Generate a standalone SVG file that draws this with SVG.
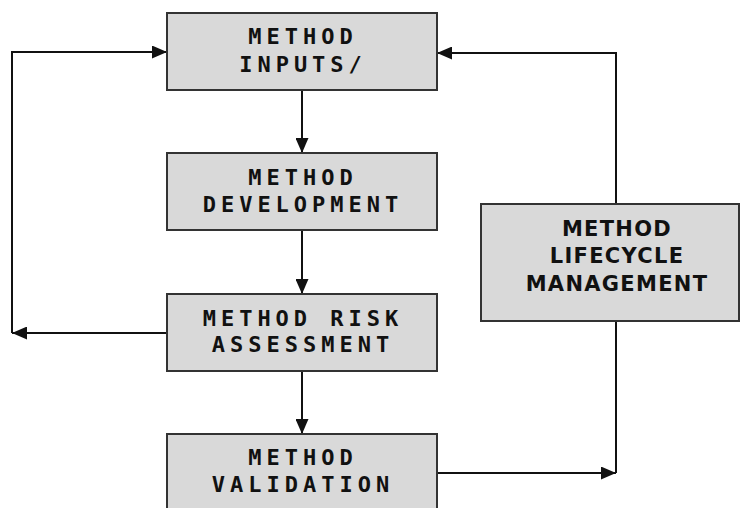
<svg xmlns="http://www.w3.org/2000/svg" width="740" height="508" viewBox="0 0 740 508">
<style>
.box{fill:#d9d9d9;stroke:#333;stroke-width:2}
.t{font-family:"DejaVu Sans Mono","Liberation Mono",monospace;font-weight:bold;font-size:22px;letter-spacing:5px;text-anchor:middle;fill:#111}
.s{font-family:"DejaVu Sans","Liberation Sans",sans-serif;font-weight:bold;font-size:21px;letter-spacing:1.3px;text-anchor:middle;fill:#111}
.c{fill:none;stroke:#111;stroke-width:2}
</style>
<defs>
<marker id="ah" markerWidth="15" markerHeight="13" refX="15" refY="6.5" orient="auto" markerUnits="userSpaceOnUse" viewBox="0 0 15 13">
<path d="M0,0 L15,6.5 L0,13 Z" fill="#111"/>
</marker>
</defs>
<g id="connectors">
<path class="c" d="M302,90 V153" marker-end="url(#ah)"/>
<path class="c" d="M302,230 V294" marker-end="url(#ah)"/>
<path class="c" d="M302,371 V434" marker-end="url(#ah)"/>
<path class="c" d="M167,333 H12" marker-end="url(#ah)"/>
<path class="c" d="M12,333 V52 H167" marker-end="url(#ah)"/>
<path class="c" d="M616,204 V53 H437" marker-end="url(#ah)"/>
<path class="c" d="M437,473 H616" marker-end="url(#ah)"/>
<path class="c" d="M616,321 V473"/>
</g>
<g id="inputs">
<rect class="box" x="167" y="13" width="270" height="77"/>
<text class="t" x="303" y="44">METHOD</text>
<text class="t" x="303" y="72">INPUTS/</text>
</g>
<g id="development">
<rect class="box" x="167" y="153" width="270" height="77"/>
<text class="t" x="303" y="185">METHOD</text>
<text class="t" x="303" y="212">DEVELOPMENT</text>
</g>
<g id="risk">
<rect class="box" x="167" y="294" width="270" height="77"/>
<text class="t" x="303" y="326">METHOD RISK</text>
<text class="t" x="303" y="352">ASSESSMENT</text>
</g>
<g id="validation">
<rect class="box" x="167" y="434" width="270" height="80"/>
<text class="t" x="303" y="465">METHOD</text>
<text class="t" x="303" y="492">VALIDATION</text>
</g>
<g id="lifecycle">
<rect class="box" x="481" y="204" width="258" height="117"/>
<text class="s" x="617" y="236">METHOD</text>
<text class="s" x="617" y="263">LIFECYCLE</text>
<text class="s" x="617" y="291">MANAGEMENT</text>
</g>
</svg>
